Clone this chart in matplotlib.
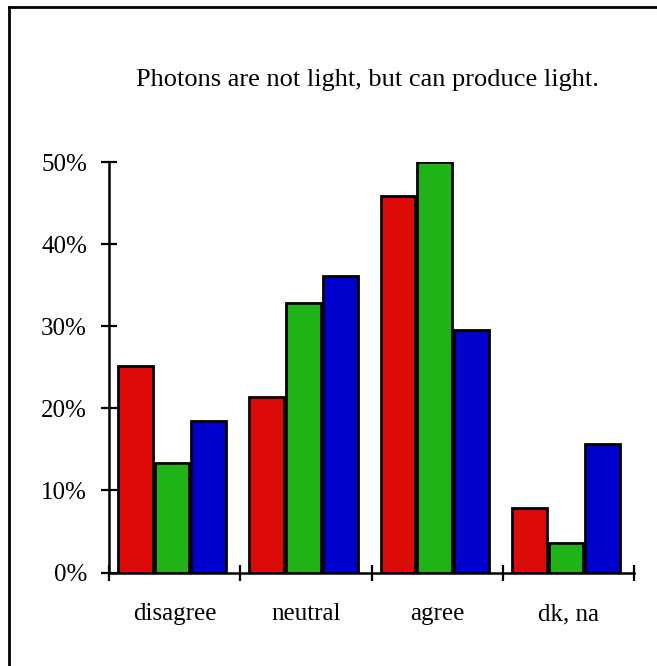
import numpy as np
import matplotlib
matplotlib.use('Agg')
import matplotlib.pyplot as plt
from matplotlib.lines import Line2D

plt.rcParams['font.family'] = ['Liberation Serif', 'DejaVu Serif']

categories = ['disagree', 'neutral', 'agree', 'dk, na']
red_vals = [25.1, 21.4, 45.9, 7.8]
green_vals = [13.3, 32.8, 50.0, 3.6]
blue_vals = [18.5, 36.1, 29.5, 15.6]
colors = ['#dd0b08', '#20b318', '#0000cc']
title = 'Photons are not light, but can produce light.'
yticks = [0, 10, 20, 30, 40, 50]

fig = plt.figure(figsize=(6.57, 6.66), dpi=100)
ax = fig.add_axes([109/657, 1-572.5/666, (634.3-109)/657, (572.5-162)/666])

x = np.arange(len(categories))
step = 0.28
width = 0.265
shift = -0.02
for i, vals in enumerate([red_vals, green_vals, blue_vals]):
    ax.bar(x + shift + (i-1)*step, vals, width, color=colors[i],
           edgecolor='black', linewidth=2, zorder=2)

ax.set_xlim(-0.5, 3.5)
ax.set_ylim(0, 50)
for s in ['top', 'right']:
    ax.spines[s].set_visible(False)
for s in ['left', 'bottom']:
    ax.spines[s].set_linewidth(1.8)
    ax.spines[s].set_zorder(3)

ax.set_yticks(yticks)
ax.set_yticklabels([f'{v}%' for v in yticks])
ax.set_xticks(np.arange(-0.5, 4.0, 1.0))
ax.set_xticklabels([])
ax.set_xticks(x, minor=True)
ax.set_xticklabels(categories, minor=True)
ax.tick_params(axis='y', direction='inout', length=11.5, width=1.6, labelsize=18, pad=10)
ax.tick_params(axis='x', which='major', direction='inout', length=11, width=1.6)
ax.tick_params(axis='x', which='minor', length=0, labelsize=18, pad=22)

fig.text(0.559, 1-80/666, title, ha='center', va='center', fontsize=19)

# figure frame (only left and top edges show)
fig.add_artist(Line2D([8.5/657, 8.5/657], [0, 1-6.5/666], transform=fig.transFigure,
                      color='black', linewidth=2))
fig.add_artist(Line2D([8.5/657, 1], [1-6.5/666, 1-6.5/666], transform=fig.transFigure,
                      color='black', linewidth=2))

fig.savefig('out.png', dpi=100)
